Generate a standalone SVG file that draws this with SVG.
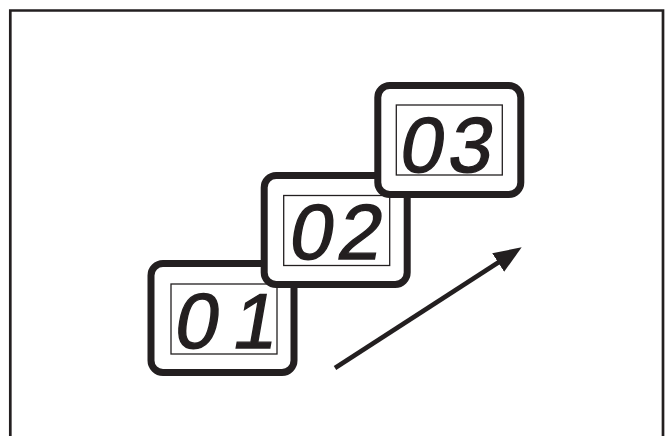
<svg xmlns="http://www.w3.org/2000/svg" width="668" height="436" viewBox="0 0 668 436">
<defs>
<style>
.frame{fill:none;stroke:#231f20;stroke-width:2.7}
.outer{fill:#fff;stroke:#231f20;stroke-width:7}
.inner{fill:#fff;stroke:#231f20;stroke-width:1.3}
.digits{font-family:"Liberation Sans",Arial,sans-serif;font-size:78px;fill:#231f20;stroke:#231f20;stroke-width:1.4;letter-spacing:5px}
.arrow{fill:none;stroke:#231f20;stroke-width:4.5}
</style>
<marker id="head" markerUnits="userSpaceOnUse" markerWidth="30" markerHeight="24" refX="1" refY="11" orient="auto" viewBox="0 0 30 24">
<path d="M0,0 L28,11 L0,22 Z" fill="#231f20"/>
</marker>
</defs>
<rect width="668" height="436" fill="#fff"/>
<path class="frame" d="M10.3,436 V10.5 H663 V436"/>
<g id="connectors">
<line class="arrow" x1="335" y1="368" x2="499" y2="262" marker-end="url(#head)"/>
</g>
<g id="node-01" transform="translate(147.5,260)">
<rect class="outer" x="3.5" y="3.5" width="143" height="109" rx="12"/>
<rect class="inner" x="23.5" y="24" width="106" height="70"/>
<text class="digits" transform="translate(24.5,88) skewX(-10)">0<tspan dx="10">1</tspan></text>
</g>
<g id="node-02" transform="translate(260.7,172)">
<rect class="outer" x="3.5" y="3.5" width="143" height="109" rx="12"/>
<rect class="inner" x="23" y="23.5" width="106" height="70"/>
<text class="digits" transform="translate(26,86.5) skewX(-10)">02</text>
</g>
<g id="node-03" transform="translate(374.3,82)">
<rect class="outer" x="3.5" y="3.5" width="143" height="109" rx="12"/>
<rect class="inner" x="22" y="23" width="106" height="70"/>
<text class="digits" transform="translate(23,89.5) skewX(-10)">03</text>
</g>
</svg>
